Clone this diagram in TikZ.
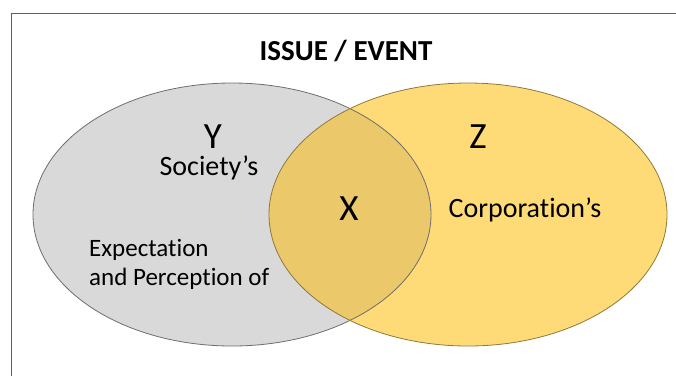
\documentclass[tikz,border=0pt]{standalone}
\usepackage{fontspec}
\setmainfont{Carlito}[Ligatures=NoCommon]
\definecolor{socfill}{HTML}{D9D9D9}
\definecolor{socline}{HTML}{6E6E6E}
\definecolor{corpfill}{HTML}{FFDB78}
\definecolor{corpline}{HTML}{8C7A3C}
\definecolor{bothfill}{HTML}{EBC86A}
\definecolor{frameline}{HTML}{5F5F5F}
\begin{document}
\begin{tikzpicture}[x=1pt,y=-1pt,
  framestyle/.style={draw=frameline, line width=1pt},
  title/.style={inner sep=0pt, anchor=base, font=\fontsize{29}{34}\selectfont\bfseries},
  letter/.style={inner sep=0pt, anchor=base, font=\fontsize{37}{42}\selectfont},
  lbl/.style={inner sep=0pt, anchor=base, font=\fontsize{28}{32}\selectfont},
  lbll/.style={inner sep=0pt, anchor=base west, font=\fontsize{25}{29}\selectfont}]
\useasboundingbox (0,0) rectangle (676,376);
\fill[white] (0,0) rectangle (676,376);
% frame (open at right and bottom)
\draw[framestyle] (11,376) -- (11,13) -- (676,13);

% society set
\fill[socfill] (232,214.5) ellipse [x radius=199pt, y radius=131.5pt];
% corporation set
\fill[corpfill] (468,214.5) ellipse [x radius=199pt, y radius=131.5pt];
% shared region
\begin{scope}
  \clip (232,214.5) ellipse [x radius=199pt, y radius=131.5pt];
  \fill[bothfill] (468,214.5) ellipse [x radius=199pt, y radius=131.5pt];
\end{scope}
\draw[socline, line width=0.8pt] (232,214.5) ellipse [x radius=199pt, y radius=131.5pt];
\draw[corpline, line width=0.8pt] (468,214.5) ellipse [x radius=199pt, y radius=131.5pt];

\node[title] (issue) at (346,60) {ISSUE / EVENT};
\node[letter] (y) at (213,148) {Y};
\node[lbl] (society) at (209,175) {Society’s};
\node[letter] (x) at (349,220) {X};
\node[letter] (z) at (478,148) {Z};
\node[lbl] (corp) at (525,217) {Corporation’s};
\node[lbll] (expect) at (89,256) {Expectation};
\node[lbll] (perc) at (89,285) {and Perception of};
\end{tikzpicture}
\end{document}
